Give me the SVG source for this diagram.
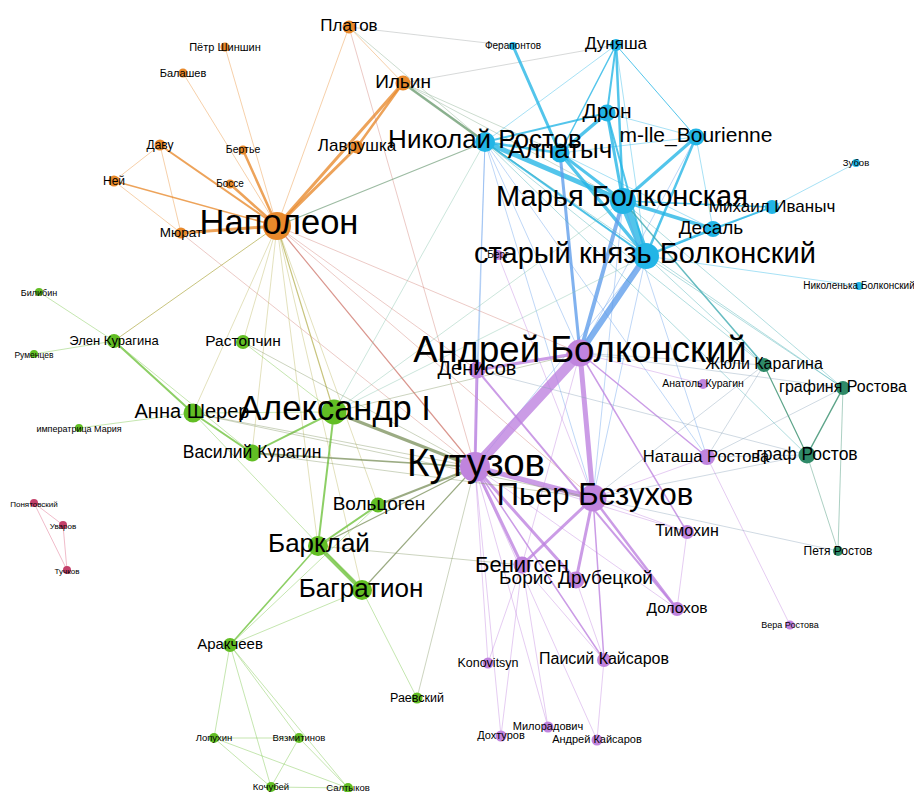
<svg xmlns="http://www.w3.org/2000/svg" width="914" height="792" viewBox="0 0 914 792">
<style>
text{font-family:"Liberation Sans",Arial,sans-serif;fill:#000;text-anchor:middle}
#edges line{stroke-linecap:round;stroke-opacity:0.78}
#edges line.t{stroke-width:0.8;stroke-opacity:0.5}
.o{stroke:#E8892B}.c{stroke:#22B5E6}.p{stroke:#BD80DF}.g{stroke:#6DC13A}.tl{stroke:#2F8A68}.r{stroke:#D9587A}
.b{stroke:#5E9CEB}.og{stroke:#B9B45A}.gp{stroke:#7F9460}.op{stroke:#D07A70}.oc{stroke:#80A888}.ct{stroke:#3CA9B0}.pt{stroke:#8AA2B8}.gc{stroke:#7FC0A8}.gr{stroke:#9AA0A0}
.no{fill:#E8892B}.nc{fill:#22B5E6}.np{fill:#C084DE}.ng{fill:#62BE24}.nt{fill:#2F8A68}.nr{fill:#C4406A}
</style>
<rect width="914" height="792" fill="#fff"/>
<g id="edges">
<line class="o t" x1="277" y1="226" x2="225" y2="47"/>
<line class="o t" x1="277" y1="226" x2="183" y2="73"/>
<line class="o" stroke-width="2.5" x1="277" y1="226" x2="243" y2="150"/>
<line class="o" stroke-width="2.5" x1="277" y1="226" x2="230" y2="184"/>
<line class="o" stroke-width="2" x1="277" y1="226" x2="160" y2="145"/>
<line class="o" stroke-width="1.5" x1="277" y1="226" x2="114" y2="181"/>
<line class="o" stroke-width="3" x1="277" y1="226" x2="181" y2="233"/>
<line class="o" stroke-width="3" x1="277" y1="226" x2="403" y2="83"/>
<line class="o" stroke-width="3" x1="277" y1="226" x2="357" y2="147"/>
<line class="o" stroke-width="2.5" x1="357" y1="147" x2="403" y2="83"/>
<line class="o t" x1="277" y1="226" x2="349" y2="27"/>
<line class="o t" x1="160" y1="145" x2="114" y2="181"/>
<line class="o t" x1="160" y1="145" x2="181" y2="233"/>
<line class="o t" x1="114" y1="181" x2="181" y2="233"/>
<line class="o t" x1="349" y1="27" x2="403" y2="83"/>
<line class="op t" x1="349" y1="27" x2="475" y2="467"/>
<line class="gr t" x1="349" y1="27" x2="513" y2="46"/>
<line class="oc t" x1="349" y1="27" x2="485" y2="142"/>
<line class="gr t" x1="403" y1="83" x2="616" y2="45"/>
<line stroke="#6E9E72" stroke-width="2.5" x1="403" y1="83" x2="485" y2="142"/>
<line class="oc t" x1="403" y1="83" x2="623" y2="201"/>
<line class="oc t" x1="403" y1="83" x2="560" y2="153"/>
<line class="oc t" x1="403" y1="83" x2="646" y2="256"/>
<line class="op t" x1="181" y1="233" x2="475" y2="467"/>
<line class="og" stroke-width="1.2" x1="277" y1="226" x2="334" y2="412"/>
<line class="op" stroke-width="1.2" x1="277" y1="226" x2="475" y2="467"/>
<line class="oc" stroke-width="1.2" x1="277" y1="226" x2="485" y2="142"/>
<line class="op t" x1="277" y1="226" x2="580" y2="353"/>
<line class="og t" x1="277" y1="226" x2="243" y2="342"/>
<line class="og" stroke-width="1" x1="277" y1="226" x2="114" y2="341"/>
<line class="og t" x1="277" y1="226" x2="193" y2="413"/>
<line class="og t" x1="277" y1="226" x2="318" y2="546"/>
<line class="og t" x1="277" y1="226" x2="362" y2="590"/>
<line class="og t" x1="277" y1="226" x2="378" y2="505"/>
<line class="og t" x1="277" y1="226" x2="252" y2="453"/>
<line class="op t" x1="277" y1="226" x2="477" y2="370"/>
<line class="op t" x1="277" y1="226" x2="593" y2="498"/>
<line class="c" stroke-width="3" x1="513" y1="46" x2="560" y2="153"/>
<line class="c" stroke-width="2" x1="616" y1="45" x2="607" y2="113"/>
<line class="c" stroke-width="2.5" x1="616" y1="45" x2="623" y2="201"/>
<line class="c" stroke-width="1" x1="616" y1="45" x2="696" y2="137"/>
<line class="c" stroke-width="1.5" x1="616" y1="45" x2="560" y2="153"/>
<line class="c t" x1="616" y1="45" x2="485" y2="142"/>
<line class="c t" x1="616" y1="45" x2="646" y2="256"/>
<line class="c" stroke-width="3.5" x1="607" y1="113" x2="560" y2="153"/>
<line class="c" stroke-width="3" x1="607" y1="113" x2="623" y2="201"/>
<line class="c" stroke-width="2" x1="607" y1="113" x2="485" y2="142"/>
<line class="c t" x1="607" y1="113" x2="696" y2="137"/>
<line class="c" stroke-width="2" x1="607" y1="113" x2="646" y2="256"/>
<line class="c" stroke-width="5" x1="485" y1="142" x2="623" y2="201"/>
<line class="c" stroke-width="2.5" x1="485" y1="142" x2="560" y2="153"/>
<line class="c" stroke-width="2" x1="485" y1="142" x2="646" y2="256"/>
<line class="c" stroke-width="3" x1="560" y1="153" x2="623" y2="201"/>
<line class="c" stroke-width="3.5" x1="560" y1="153" x2="646" y2="256"/>
<line class="c t" x1="560" y1="153" x2="713" y2="229"/>
<line class="c t" x1="560" y1="153" x2="696" y2="137"/>
<line class="b" stroke-width="3" x1="560" y1="153" x2="580" y2="353"/>
<line class="c" stroke-width="9" x1="623" y1="201" x2="646" y2="256"/>
<line class="c" stroke-width="3" x1="623" y1="201" x2="696" y2="137"/>
<line class="c" stroke-width="3.5" x1="623" y1="201" x2="713" y2="229"/>
<line class="c" stroke-width="1.5" x1="623" y1="201" x2="772" y2="207"/>
<line class="b" stroke-width="4" x1="623" y1="201" x2="580" y2="353"/>
<line class="b" stroke-width="6" x1="646" y1="256" x2="580" y2="353"/>
<line class="c" stroke-width="2.5" x1="696" y1="137" x2="646" y2="256"/>
<line class="c t" x1="696" y1="137" x2="713" y2="229"/>
<line class="b t" x1="696" y1="137" x2="580" y2="353"/>
<line class="c" stroke-width="2.5" x1="646" y1="256" x2="713" y2="229"/>
<line class="c t" x1="646" y1="256" x2="772" y2="207"/>
<line class="c" stroke-width="2" x1="713" y1="229" x2="772" y2="207"/>
<line class="c t" x1="772" y1="207" x2="856" y2="163"/>
<line class="c t" x1="646" y1="256" x2="859" y2="286"/>
<line class="ct" stroke-width="1.5" x1="623" y1="201" x2="764" y2="365"/>
<line class="ct t" x1="646" y1="256" x2="764" y2="365"/>
<line class="ct t" x1="623" y1="201" x2="843" y2="388"/>
<line class="ct t" x1="646" y1="256" x2="843" y2="388"/>
<line class="ct t" x1="485" y1="142" x2="843" y2="388"/>
<line class="ct t" x1="485" y1="142" x2="807" y2="455"/>
<line class="ct t" x1="485" y1="142" x2="764" y2="365"/>
<line class="b t" x1="485" y1="142" x2="477" y2="370"/>
<line class="b t" x1="485" y1="142" x2="475" y2="467"/>
<line class="b t" x1="485" y1="142" x2="580" y2="353"/>
<line class="b t" x1="485" y1="142" x2="593" y2="498"/>
<line class="b t" x1="485" y1="142" x2="707" y2="457"/>
<line class="b t" x1="623" y1="201" x2="707" y2="457"/>
<line class="b t" x1="646" y1="256" x2="593" y2="498"/>
<line class="b t" x1="646" y1="256" x2="475" y2="467"/>
<line class="b t" x1="623" y1="201" x2="593" y2="498"/>
<line class="gc t" x1="334" y1="412" x2="485" y2="142"/>
<line class="gc t" x1="334" y1="412" x2="623" y2="201"/>
<line class="gc t" x1="334" y1="412" x2="646" y2="256"/>
<line class="gp t" x1="334" y1="412" x2="580" y2="353"/>
<line class="p" stroke-width="10" x1="580" y1="353" x2="475" y2="467"/>
<line class="p" stroke-width="5" x1="580" y1="353" x2="593" y2="498"/>
<line class="p" stroke-width="3" x1="580" y1="353" x2="477" y2="370"/>
<line class="p" stroke-width="3" x1="475" y1="467" x2="477" y2="370"/>
<line class="p" stroke-width="5" x1="475" y1="467" x2="593" y2="498"/>
<line class="p" stroke-width="3" x1="475" y1="467" x2="522" y2="565"/>
<line class="p" stroke-width="3" x1="475" y1="467" x2="576" y2="580"/>
<line class="p" stroke-width="3" x1="593" y1="498" x2="522" y2="565"/>
<line class="p" stroke-width="3" x1="593" y1="498" x2="576" y2="580"/>
<line class="p" stroke-width="2.5" x1="593" y1="498" x2="677" y2="609"/>
<line class="p t" x1="593" y1="498" x2="707" y2="457"/>
<line class="p t" x1="593" y1="498" x2="687" y2="532"/>
<line class="p" stroke-width="1.5" x1="580" y1="353" x2="707" y2="457"/>
<line class="p" stroke-width="1.5" x1="580" y1="353" x2="687" y2="532"/>
<line class="p" stroke-width="2" x1="477" y1="370" x2="677" y2="609"/>
<line class="p t" x1="580" y1="353" x2="703" y2="384"/>
<line class="p t" x1="475" y1="467" x2="488" y2="663"/>
<line class="p t" x1="475" y1="467" x2="501" y2="736"/>
<line class="p t" x1="475" y1="467" x2="548" y2="727"/>
<line class="p t" x1="475" y1="467" x2="597" y2="740"/>
<line class="p" stroke-width="1.5" x1="475" y1="467" x2="604" y2="660"/>
<line class="p t" x1="522" y1="565" x2="604" y2="660"/>
<line class="p" stroke-width="1.5" x1="593" y1="498" x2="604" y2="660"/>
<line class="p t" x1="576" y1="580" x2="604" y2="660"/>
<line class="p t" x1="522" y1="565" x2="488" y2="663"/>
<line class="p t" x1="522" y1="565" x2="501" y2="736"/>
<line class="p t" x1="522" y1="565" x2="548" y2="727"/>
<line class="p t" x1="604" y1="660" x2="597" y2="740"/>
<line class="p t" x1="677" y1="609" x2="687" y2="532"/>
<line class="p t" x1="707" y1="457" x2="790" y2="625"/>
<line class="p t" x1="475" y1="467" x2="687" y2="532"/>
<line class="p t" x1="498" y1="255" x2="593" y2="498"/>
<line class="p t" x1="580" y1="353" x2="522" y2="565"/>
<line class="p t" x1="475" y1="467" x2="677" y2="609"/>
<line class="tl" stroke-width="1.2" x1="764" y1="365" x2="807" y2="455"/>
<line class="tl" stroke-width="1.5" x1="843" y1="388" x2="807" y2="455"/>
<line class="tl t" x1="807" y1="455" x2="838" y2="551"/>
<line class="tl t" x1="843" y1="388" x2="838" y2="551"/>
<line class="pt t" x1="707" y1="457" x2="807" y2="455"/>
<line class="pt t" x1="707" y1="457" x2="843" y2="388"/>
<line class="pt t" x1="707" y1="457" x2="764" y2="365"/>
<line class="pt t" x1="593" y1="498" x2="807" y2="455"/>
<line class="pt t" x1="593" y1="498" x2="838" y2="551"/>
<line class="pt t" x1="593" y1="498" x2="764" y2="365"/>
<line class="pt t" x1="580" y1="353" x2="843" y2="388"/>
<line class="pt t" x1="580" y1="353" x2="764" y2="365"/>
<line class="pt t" x1="477" y1="370" x2="807" y2="455"/>
<line class="g" stroke-width="2" x1="334" y1="412" x2="318" y2="546"/>
<line class="g" stroke-width="2" x1="334" y1="412" x2="252" y2="453"/>
<line class="g" stroke-width="2" x1="193" y1="413" x2="252" y2="453"/>
<line class="g" stroke-width="2" x1="193" y1="413" x2="114" y2="341"/>
<line class="g t" x1="114" y1="341" x2="252" y2="453"/>
<line class="g t" x1="193" y1="413" x2="334" y2="412"/>
<line class="g t" x1="114" y1="341" x2="39" y2="292"/>
<line class="g t" x1="114" y1="341" x2="34" y2="354"/>
<line class="g t" x1="193" y1="413" x2="79" y2="428"/>
<line class="g" stroke-width="4" x1="318" y1="546" x2="362" y2="590"/>
<line class="g" stroke-width="2" x1="318" y1="546" x2="378" y2="505"/>
<line class="g" stroke-width="1.5" x1="318" y1="546" x2="230" y2="645"/>
<line class="g t" x1="362" y1="590" x2="230" y2="645"/>
<line class="g t" x1="378" y1="505" x2="230" y2="645"/>
<line class="gp" stroke-width="3" x1="334" y1="412" x2="475" y2="467"/>
<line class="gp" stroke-width="1.5" x1="252" y1="453" x2="475" y2="467"/>
<line class="gp" stroke-width="2" x1="378" y1="505" x2="475" y2="467"/>
<line class="gp" stroke-width="1.2" x1="318" y1="546" x2="475" y2="467"/>
<line class="gp" stroke-width="1.2" x1="362" y1="590" x2="475" y2="467"/>
<line class="g t" x1="362" y1="590" x2="417" y2="698"/>
<line class="gp t" x1="417" y1="698" x2="475" y2="467"/>
<line class="g t" x1="230" y1="645" x2="214" y2="738"/>
<line class="g t" x1="230" y1="645" x2="271" y2="787"/>
<line class="g t" x1="230" y1="645" x2="348" y2="788"/>
<line class="g t" x1="230" y1="645" x2="299" y2="738"/>
<line class="g t" x1="214" y1="738" x2="299" y2="738"/>
<line class="g t" x1="214" y1="738" x2="348" y2="788"/>
<line class="g t" x1="214" y1="738" x2="271" y2="787"/>
<line class="g t" x1="299" y1="738" x2="271" y2="787"/>
<line class="g t" x1="271" y1="787" x2="348" y2="788"/>
<line class="g t" x1="299" y1="738" x2="348" y2="788"/>
<line class="gp t" x1="243" y1="342" x2="475" y2="467"/>
<line class="g t" x1="243" y1="342" x2="334" y2="412"/>
<line class="gp t" x1="193" y1="413" x2="475" y2="467"/>
<line class="g t" x1="193" y1="413" x2="362" y2="590"/>
<line class="gp t" x1="318" y1="546" x2="522" y2="565"/>
<line class="gp t" x1="252" y1="453" x2="593" y2="498"/>
<line class="gp t" x1="193" y1="413" x2="593" y2="498"/>
<line class="r t" x1="34" y1="503" x2="63" y2="525"/>
<line class="r t" x1="34" y1="503" x2="67" y2="570"/>
<line class="r t" x1="63" y1="525" x2="67" y2="570"/>
</g>
<g id="n-ponyatovsky"><circle class="nr" cx="34" cy="503" r="4"/><text x="34" y="507" font-size="8">Понятовский</text></g>
<g id="n-uvarov"><circle class="nr" cx="63" cy="525" r="4"/><text x="63" y="529" font-size="8">Уваров</text></g>
<g id="n-tuchkov"><circle class="nr" cx="67" cy="570" r="4"/><text x="67" y="574" font-size="8">Тучков</text></g>
<g id="n-bilibin"><circle class="ng" cx="39" cy="292" r="4"/><text x="39" y="296" font-size="9">Билибин</text></g>
<g id="n-rumentsev"><circle class="ng" cx="34" cy="354" r="4"/><text x="34" y="358" font-size="8.5">Руменцев</text></g>
<g id="n-imperatritsa"><circle class="ng" cx="79" cy="428" r="4"/><text x="79" y="432" font-size="9">императрица Мария</text></g>
<g id="n-shinshin"><circle class="no" cx="225" cy="47" r="4.5"/><text x="225" y="51" font-size="11">Пётр Шиншин</text></g>
<g id="n-balashev"><circle class="no" cx="183" cy="73" r="4.5"/><text x="183" y="77" font-size="11">Балашев</text></g>
<g id="n-bertie"><circle class="no" cx="243" cy="150" r="4.5"/><text x="243" y="153" font-size="10.5">Бертье</text></g>
<g id="n-bosse"><circle class="no" cx="230" cy="184" r="4.5"/><text x="230" y="187" font-size="10">Боссе</text></g>
<g id="n-ferapontov"><circle class="nc" cx="513" cy="46" r="4"/><text x="513" y="49" font-size="10">Ферапонтов</text></g>
<g id="n-zubov"><circle class="nc" cx="856" cy="163" r="4"/><text x="856" y="166" font-size="9.5">Зубов</text></g>
<g id="n-nikolenka"><circle class="nc" cx="859" cy="286" r="4"/><text x="859" y="289" font-size="10">Николенька Болконский</text></g>
<g id="n-vera"><circle class="np" cx="790" cy="625" r="4.5"/><text x="790" y="628" font-size="9">Вера Ростова</text></g>
<g id="n-anatol"><circle class="np" cx="703" cy="384" r="5"/><text x="703" y="387" font-size="10.5">Анатоль Курагин</text></g>
<g id="n-lopukhin"><circle class="ng" cx="214" cy="738" r="5"/><text x="214" y="741" font-size="9.5">Лопухин</text></g>
<g id="n-vyazmitinov"><circle class="ng" cx="299" cy="738" r="5"/><text x="299" y="741" font-size="9.5">Вязмитинов</text></g>
<g id="n-kochubey"><circle class="ng" cx="271" cy="787" r="5"/><text x="271" y="790" font-size="9.5">Кочубей</text></g>
<g id="n-saltykov"><circle class="ng" cx="348" cy="788" r="5"/><text x="348" y="791" font-size="9.5">Салтыков</text></g>
<g id="n-berg"><circle class="np" cx="498" cy="255" r="5"/><text x="498" y="258" font-size="10">Берг</text></g>
<g id="n-myurat"><circle class="no" cx="181" cy="233" r="5.5"/><text x="181" y="237" font-size="13.5">Мюрат</text></g>
<g id="n-davu"><circle class="no" cx="160" cy="145" r="5.5"/><text x="160" y="149" font-size="12">Даву</text></g>
<g id="n-ney"><circle class="no" cx="114" cy="181" r="5.5"/><text x="114" y="185" font-size="12">Ней</text></g>
<g id="n-petya"><circle class="nt" cx="838" cy="551" r="5"/><text x="838" y="555" font-size="12">Петя Ростов</text></g>
<g id="n-raevsky"><circle class="ng" cx="417" cy="698" r="5.5"/><text x="417" y="702" font-size="12.5">Раевский</text></g>
<g id="n-konovitsyn"><circle class="np" cx="488" cy="663" r="5.5"/><text x="488" y="667" font-size="12.5">Konovitsyn</text></g>
<g id="n-miloradovich"><circle class="np" cx="548" cy="727" r="5.5"/><text x="548" y="730" font-size="11">Милорадович</text></g>
<g id="n-dokhturov"><circle class="np" cx="501" cy="736" r="5.5"/><text x="501" y="739" font-size="11">Дохтуров</text></g>
<g id="n-akaysarov"><circle class="np" cx="597" cy="740" r="5.5"/><text x="597" y="743" font-size="11">Андрей Кайсаров</text></g>
<g id="n-dunyasha"><circle class="nc" cx="616" cy="45" r="6"/><text x="616" y="49" font-size="17">Дуняша</text></g>
<g id="n-platov"><circle class="no" cx="349" cy="27" r="6.5"/><text x="349" y="31" font-size="17">Платов</text></g>
<g id="n-lavrushka"><circle class="no" cx="357" cy="147" r="6.5"/><text x="357" y="151" font-size="17">Лаврушка</text></g>
<g id="n-rastopchin"><circle class="ng" cx="243" cy="342" r="7"/><text x="243" y="346" font-size="15.5">Растопчин</text></g>
<g id="n-elen"><circle class="ng" cx="114" cy="341" r="7"/><text x="114" y="345" font-size="13">Элен Курагина</text></g>
<g id="n-arakcheev"><circle class="ng" cx="230" cy="645" r="7"/><text x="230" y="649" font-size="15">Аракчеев</text></g>
<g id="n-timokhin"><circle class="np" cx="687" cy="532" r="7"/><text x="687" y="536" font-size="16">Тимохин</text></g>
<g id="n-dolokhov"><circle class="np" cx="677" cy="609" r="7"/><text x="677" y="613" font-size="15.5">Долохов</text></g>
<g id="n-paisiy"><circle class="np" cx="604" cy="660" r="7"/><text x="604" y="664" font-size="16">Паисий Кайсаров</text></g>
<g id="n-yuli"><circle class="nt" cx="764" cy="365" r="7"/><text x="764" y="369" font-size="16">Жюли Карагина</text></g>
<g id="n-grafinya"><circle class="nt" cx="843" cy="388" r="7"/><text x="843" y="392" font-size="16">графиня Ростова</text></g>
<g id="n-mikhail"><circle class="nc" cx="772" cy="207" r="7"/><text x="772" y="212" font-size="17">Михаил Иваныч</text></g>
<g id="n-ilin"><circle class="no" cx="403" cy="83" r="7.5"/><text x="403" y="88" font-size="19">Ильин</text></g>
<g id="n-volzogen"><circle class="ng" cx="378" cy="505" r="7.5"/><text x="379" y="510" font-size="19">Вольцоген</text></g>
<g id="n-natasha"><circle class="np" cx="707" cy="457" r="8"/><text x="706" y="462" font-size="16.5">Наташа Ростова</text></g>
<g id="n-graf"><circle class="nt" cx="807" cy="455" r="8.5"/><text x="807" y="460" font-size="17.5">граф Ростов</text></g>
<g id="n-desal"><circle class="nc" cx="713" cy="229" r="8"/><text x="711" y="234" font-size="19">Десаль</text></g>
<g id="n-vasily"><circle class="ng" cx="252" cy="453" r="8.5"/><text x="252" y="458" font-size="17.5">Василий Курагин</text></g>
<g id="n-denisov"><circle class="np" cx="477" cy="370" r="8.5"/><text x="477" y="375" font-size="20">Денисов</text></g>
<g id="n-dron"><circle class="nc" cx="607" cy="113" r="8.5"/><text x="607" y="118" font-size="21">Дрон</text></g>
<g id="n-mlle"><circle class="nc" cx="696" cy="137" r="8.5"/><text x="696" y="142" font-size="21">m-lle_Bourienne</text></g>
<g id="n-benigsen"><circle class="np" cx="522" cy="565" r="8.5"/><text x="522" y="572" font-size="22">Бенигсен</text></g>
<g id="n-boris"><circle class="np" cx="576" cy="580" r="8.5"/><text x="576" y="584" font-size="19">Борис Друбецкой</text></g>
<g id="n-alpatych"><circle class="nc" cx="560" cy="153" r="9.5"/><text x="560" y="158" font-size="26">Алпатыч</text></g>
<g id="n-nrostov"><circle class="nc" cx="485" cy="142" r="10"/><text x="485" y="148" font-size="26">Николай Ростов</text></g>
<g id="n-sherer"><circle class="ng" cx="193" cy="413" r="9.5"/><text x="192" y="418" font-size="20">Анна Шерер</text></g>
<g id="n-barklay"><circle class="ng" cx="318" cy="546" r="10"/><text x="319" y="552" font-size="26">Барклай</text></g>
<g id="n-bagration"><circle class="ng" cx="362" cy="590" r="10"/><text x="361" y="597" font-size="26">Багратион</text></g>
<g id="n-marya"><circle class="nc" cx="623" cy="201" r="13"/><text x="622" y="206" font-size="29">Марья Болконская</text></g>
<g id="n-knyaz"><circle class="nc" cx="646" cy="256" r="13"/><text x="645" y="263" font-size="29">старый князь Болконский</text></g>
<g id="n-aleksandr"><circle class="ng" cx="334" cy="412" r="12.5"/><text x="335" y="420" font-size="34.5">Александр I</text></g>
<g id="n-pier"><circle class="np" cx="593" cy="498" r="13.5"/><text x="595" y="505" font-size="31">Пьер Безухов</text></g>
<g id="n-napoleon"><circle class="no" cx="277" cy="226" r="14"/><text x="279" y="234" font-size="34.5">Наполеон</text></g>
<g id="n-andrey"><circle class="np" cx="580" cy="353" r="13.5"/><text x="580" y="362" font-size="36.5">Андрей Болконский</text></g>
<g id="n-kutuzov"><circle class="np" cx="475" cy="467" r="15"/><text x="476" y="476" font-size="38.5">Кутузов</text></g>
</svg>
